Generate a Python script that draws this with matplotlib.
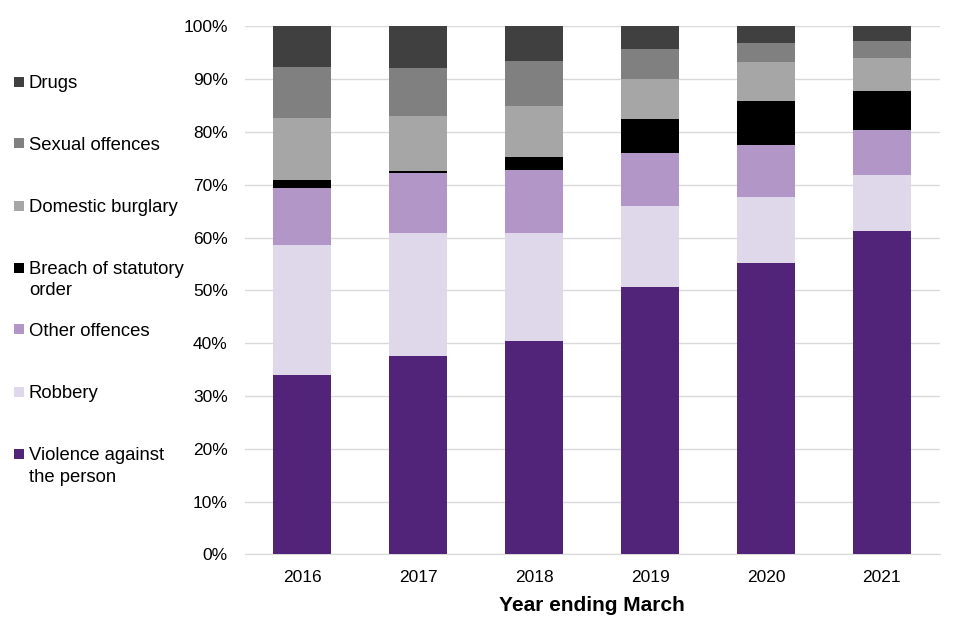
import matplotlib
matplotlib.use("Agg")
import matplotlib.pyplot as plt
from matplotlib.patches import Rectangle
import numpy as np

plt.rcParams['font.family'] = ['Liberation Sans', 'DejaVu Sans']

years = ['2016', '2017', '2018', '2019', '2020', '2021']
categories = ['Violence against\nthe person', 'Robbery', 'Other offences',
              'Breach of statutory\norder', 'Domestic burglary', 'Sexual offences', 'Drugs']
violence = [33.9, 37.6, 40.4, 50.6, 55.2, 61.2]
robbery = [24.7, 23.3, 20.5, 15.4, 12.5, 10.6]
other = [10.8, 11.3, 11.9, 10.0, 9.9, 8.6]
breach = [1.5, 0.4, 2.5, 6.4, 8.3, 7.4]
burglary = [11.8, 10.4, 9.6, 7.6, 7.3, 6.2]
sexual = [9.6, 9.2, 8.5, 5.7, 3.7, 3.2]
drugs = [7.7, 7.8, 6.6, 4.3, 3.1, 2.8]
series = [violence, robbery, other, breach, burglary, sexual, drugs]
colors = ['#51247A', '#DFD7EA', '#B196C7', '#000000', '#A6A6A6', '#808080', '#404040']

fig = plt.figure(figsize=(9.6, 6.4), dpi=100)
ax = fig.add_axes([0.2547, 0.1336, 0.7243, 0.8253])

x = np.arange(len(years))
bottom = np.zeros(len(years))
for vals, c in zip(series, colors):
    v = np.array(vals)
    ax.bar(x, v, 0.5, bottom=bottom, color=c, zorder=3)
    bottom += v

ax.set_xlim(-0.5, len(years) - 0.5)
ax.set_ylim(0, 100)
ax.set_yticks(np.arange(0, 101, 10))
ax.set_yticklabels([f'{t}%' for t in range(0, 101, 10)], fontsize=12.5)
ax.set_xticks(x)
ax.set_xticklabels(years, fontsize=12.5)
ax.tick_params(axis='y', length=0, pad=12)
ax.tick_params(axis='x', length=0, pad=11)
ax.yaxis.grid(True, color='#D9D9D9', linewidth=1, zorder=0)
ax.set_axisbelow(True)
for s in ['top', 'right', 'left']:
    ax.spines[s].set_visible(False)
ax.spines['bottom'].set_color('#D9D9D9')
ax.set_xlabel('Year ending March', fontsize=15, fontweight='bold', labelpad=8)

# Legend (manual, left side), top to bottom
leg_first_line = [81.7, 143, 205.7, 267.7, 329, 391.7, 454]
for i, (lab, c) in enumerate(zip(categories[::-1], colors[::-1])):
    y0 = leg_first_line[i]
    fig.patches.append(Rectangle((14 / 960, 1 - (y0 + 5) / 640), 10 / 960, 10 / 640,
                                 transform=fig.transFigure, facecolor=c, edgecolor='none'))
    fig.text(29 / 960, 1 - (y0 - 6.5) / 640, lab, fontsize=13.3, va='top', ha='left',
             linespacing=1.33)

fig.savefig('out.png', dpi=100)
